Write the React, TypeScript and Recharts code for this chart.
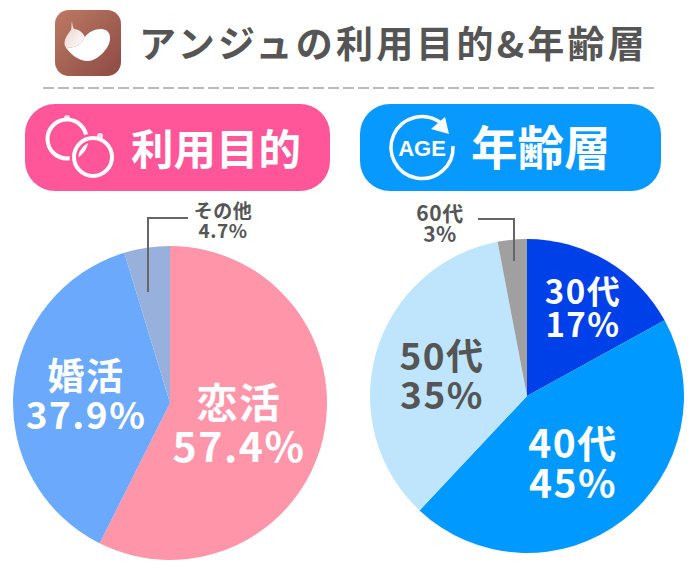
import React from "react";
import { PieChart, Pie, Cell } from "recharts";

const purposeNames = ["恋活", "婚活", "その他"];
const purposeValues = [57.4, 37.9, 4.7];
const purposeColors = ["#FF95A8", "#6AA9FB", "#97B0DC"];

const ageNames = ["30代", "40代", "50代", "60代"];
const ageValues = [17, 45, 35, 3];
const ageColors = ["#0040E8", "#0099FF", "#BFE5FD", "#A0A0A0"];

const title = "アンジュの利用目的&年齢層";
const leftHeading = "利用目的";
const rightHeading = "年齢層";

const purposeData = purposeNames.map((name, i) => ({ name, value: purposeValues[i] }));
const ageData = ageNames.map((name, i) => ({ name, value: ageValues[i] }));

const FONT = "'Noto Sans CJK JP', 'Noto Sans', sans-serif";

type LabelStyle = { x: number; y1: number; y2: number; size: number; fill: string; leader?: string };
const purposeLabelStyles: LabelStyle[] = [
  { x: 239, y1: 418, y2: 462, size: 41, fill: "#fff" },
  { x: 86, y1: 390, y2: 429, size: 37, fill: "#fff" },
  { x: 223, y1: 218, y2: 238, size: 19, fill: "#555", leader: "148,292 148,218 188,218" },
];
const ageLabelStyles: LabelStyle[] = [
  { x: 583, y1: 304, y2: 337, size: 33, fill: "#fff" },
  { x: 573, y1: 458, y2: 498, size: 39, fill: "#fff" },
  { x: 442, y1: 370, y2: 409, size: 37, fill: "#555" },
  { x: 440, y1: 221, y2: 242, size: 21, fill: "#555", leader: "478,219 514,219 514,261" },
];

const makeLabel = (styles: LabelStyle[]) => (props: any) => {
  const s = styles[props.index];
  return (
    <g key={props.index}>
      {s.leader && <polyline points={s.leader} fill="none" stroke="#666" strokeWidth={2} />}
      <text
        textAnchor="middle"
        fontFamily={FONT}
        fontWeight={700}
        fontSize={s.size}
        fill={s.fill}
        letterSpacing={s.size > 22 ? 1.5 : 0.5}
      >
        <tspan x={s.x} y={s.y1}>{props.name}</tspan>
        <tspan x={s.x} y={s.y2}>{`${props.value}%`}</tspan>
      </text>
    </g>
  );
};

export default function App() {
  return (
    <div style={{ position: "absolute", left: 0, top: 0, width: 700, height: 568, background: "#fff" }}>
      <PieChart width={700} height={568} margin={{ top: 0, right: 0, bottom: 0, left: 0 }}>
        <defs>
          <linearGradient id="appIcon" x1="0" y1="0" x2="1" y2="1">
            <stop offset="0%" stopColor="#BC7A64" />
            <stop offset="100%" stopColor="#8C4A44" />
          </linearGradient>
          <linearGradient id="leaf" x1="0" y1="0" x2="1" y2="1">
            <stop offset="0%" stopColor="#E8CFC8" />
            <stop offset="100%" stopColor="#FFFFFF" />
          </linearGradient>
        </defs>

        {/* App icon */}
        <rect x={55} y={10} width={66} height={66} rx={14} fill="url(#appIcon)" />
        <path d="M85,37 C91,28 109,25 110,37 C111,48 97,61 88,61 C78,61 70,54 65,46 C72,50 80,46 85,37 Z" fill="#fff" />
        <path d="M72,21 C72,24 73,27 74,29 C79,29 83,33 85,37 C80,46 72,50 65,46 C63,40 68,34 71,30 C72,27 71,24 72,21 Z" fill="url(#leaf)" />

        <text x={139} y={58} fontFamily={FONT} fontWeight={700} fontSize={37} fill="#555" letterSpacing={3.2}>{title}</text>
        <line x1={43} y1={88} x2={657} y2={88} stroke="#BBB" strokeWidth={2} strokeDasharray="11 4" />

        {/* Left heading */}
        <rect x={25} y={104} width={305} height={87} rx={30} fill="#FF5599" />
        <circle cx={67} cy={139} r={19.5} fill="none" stroke="#fff" strokeWidth={4} />
        <circle cx={93} cy={157} r={19} fill="none" stroke="#FF5599" strokeWidth={9} />
        <circle cx={93} cy={157} r={19} fill="none" stroke="#fff" strokeWidth={4} />
        <circle cx={67} cy={118} r={3} fill="#fff" opacity={0.8} />
        <circle cx={100} cy={136} r={3} fill="#fff" opacity={0.8} />
        <text x={131} y={165} fontFamily={FONT} fontWeight={700} fontSize={42.5} fill="#fff">{leftHeading}</text>

        {/* Right heading */}
        <rect x={360} y={104} width={301} height={87} rx={30} fill="#0899FF" />
        <path d="M453,146 A31,31 0 1 1 441,123" fill="none" stroke="#fff" strokeWidth={3.5} />
        <path d="M449,134 L431,129 L445,117 Z" fill="#fff" />
        <text x={422} y={156} textAnchor="middle" fontFamily="'Liberation Sans', sans-serif" fontWeight={700} fontSize={22} fill="#fff">AGE</text>
        <text x={471} y={165} fontFamily={FONT} fontWeight={700} fontSize={46.5} fill="#fff">{rightHeading}</text>

        <Pie
          data={purposeData}
          dataKey="value"
          nameKey="name"
          cx={170}
          cy={403}
          outerRadius={157}
          startAngle={90}
          endAngle={-270}
          stroke="none"
          isAnimationActive={false}
          labelLine={false}
          label={makeLabel(purposeLabelStyles)}
        >
          {purposeColors.map((c) => <Cell key={c} fill={c} />)}
        </Pie>
        <Pie
          data={ageData}
          dataKey="value"
          nameKey="name"
          cx={527}
          cy={396}
          outerRadius={157}
          startAngle={90}
          endAngle={-270}
          stroke="none"
          isAnimationActive={false}
          labelLine={false}
          label={makeLabel(ageLabelStyles)}
        >
          {ageColors.map((c) => <Cell key={c} fill={c} />)}
        </Pie>
      </PieChart>
    </div>
  );
}
